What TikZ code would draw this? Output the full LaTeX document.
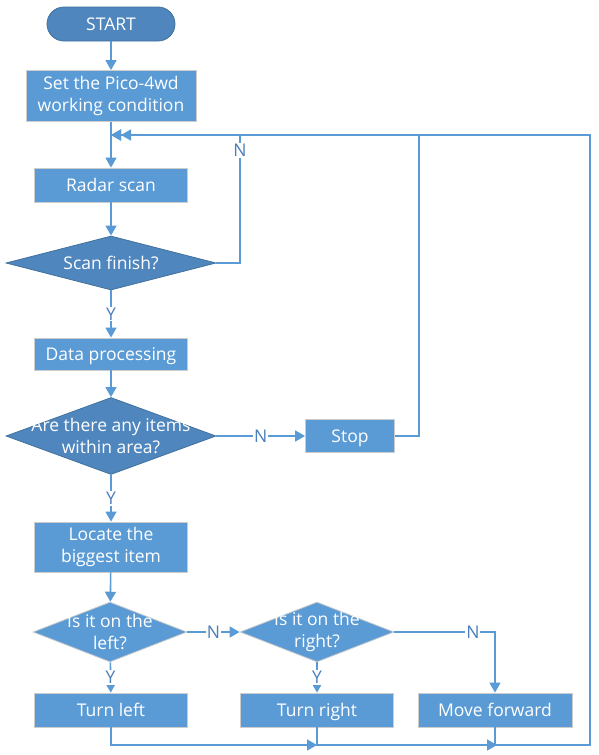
\documentclass[tikz,border=0pt]{standalone}
\usepackage{fontspec}
\setmainfont{Open Sans}
\usetikzlibrary{shapes.geometric,arrows.meta}
\definecolor{boxblue}{HTML}{5B9BD5}
\definecolor{darkblue}{HTML}{4F86BD}
\definecolor{edgeblue}{HTML}{41719C}
\definecolor{labblue}{HTML}{4A7EBB}
\newcommand{\cbox}[1]{\makebox[0pt]{#1}}

\begin{document}
\begin{tikzpicture}[x=1pt,y=-1pt,
  every node/.style={font=\fontsize{17.5}{22}\selectfont},
  proc/.style={rectangle,draw=black!20,line width=0.8,fill=boxblue,text=white,
    inner sep=0pt,minimum width=153,minimum height=34,align=center},
  oneline/.style={text height=13,text depth=0},
  dec/.style={diamond,draw=edgeblue,line width=0.8,fill=darkblue,text=white,
    inner sep=0pt,align=center},
  lightdec/.style={dec,draw=black!20,fill=boxblue},
  line/.style={draw=boxblue,line width=1.6},
  arr/.style={line,-{Triangle[length=10,width=11]}},
  arrtwo/.style={line,-{Triangle[length=10,width=11] Triangle[length=10,width=11]}},
  lab/.style={fill=white,text=labblue,inner sep=1pt}
]
\useasboundingbox (0,0) rectangle (599,755);

% main column
\node[rectangle,rounded corners=17,draw=edgeblue,line width=0.8,fill=darkblue,
  text=white,minimum width=128,minimum height=34,oneline] (start) at (111,24) {START};
\node[proc,minimum width=170,minimum height=51] (set) at (111,96)
  {Set the Pico-4wd\\working condition};
\node[proc,oneline] (radar) at (111,185) {Radar scan};
\node[dec,minimum width=210,minimum height=54] (scan) at (111,263)
  {\cbox{Scan finish?}};
\node[proc,minimum height=32,oneline] (data) at (111,354) {Data processing};
\node[dec,minimum width=210,minimum height=77] (items) at (111,436)
  {\cbox{Are there any items}\\\cbox{within area?}};
\node[proc,minimum width=89,minimum height=33,oneline] (stop) at (350,436) {Stop};
\node[proc,minimum height=50] (locate) at (111,547) {Locate the\\biggest item};

% left / right checks
\node[lightdec,minimum width=154,minimum height=60] (left) at (110,632)
  {\cbox{Is it on the}\\\cbox{left?}};
\node[lightdec,minimum width=154,minimum height=60] (right) at (317,632)
  {\cbox{Is it on the}\\\cbox{right?}};
\node[proc,oneline] (tleft) at (111,710) {Turn left};
\node[proc,oneline] (tright) at (317,710) {Turn right};
\node[proc,minimum width=154,oneline] (fwd) at (495,710) {Move forward};

% joints
\coordinate (join) at (111,135);
\coordinate (m1) at (317,745);
\coordinate (m2) at (497,745);

% connectors
\draw[arr] (start) -- (set);
\draw[arr] (set) -- (radar);
\draw[arr] (radar) -- (scan);
\draw[line] (scan.east) -| node[lab,pos=0.94]{N} (240,135);
\draw[arr] (scan) -- node[lab]{Y} (data);
\draw[arr] (data) -- (items);
\draw[arr] (items) -- node[lab]{N} (stop);
\draw[arr] (stop.east) -| (419,135) -- (join);
\draw[arr] (items) -- node[lab]{Y} (locate);
\draw[arr] (locate) -- (left);
\draw[arr] (left) -- node[lab]{N} (right);
\draw[arr] (left) -- node[lab]{Y} (tleft);
\draw[arr] (right) -- node[lab]{Y} (tright);
\draw[arr] (right.east) -| node[lab,pos=0.39]{N} (fwd.north);
\draw[arr] (tleft.south) |- (m1);
\draw[arr] (tright.south) |- (m2);
\draw[arrtwo] (fwd.south) |- (590,745) |- (join);
\end{tikzpicture}
\end{document}
